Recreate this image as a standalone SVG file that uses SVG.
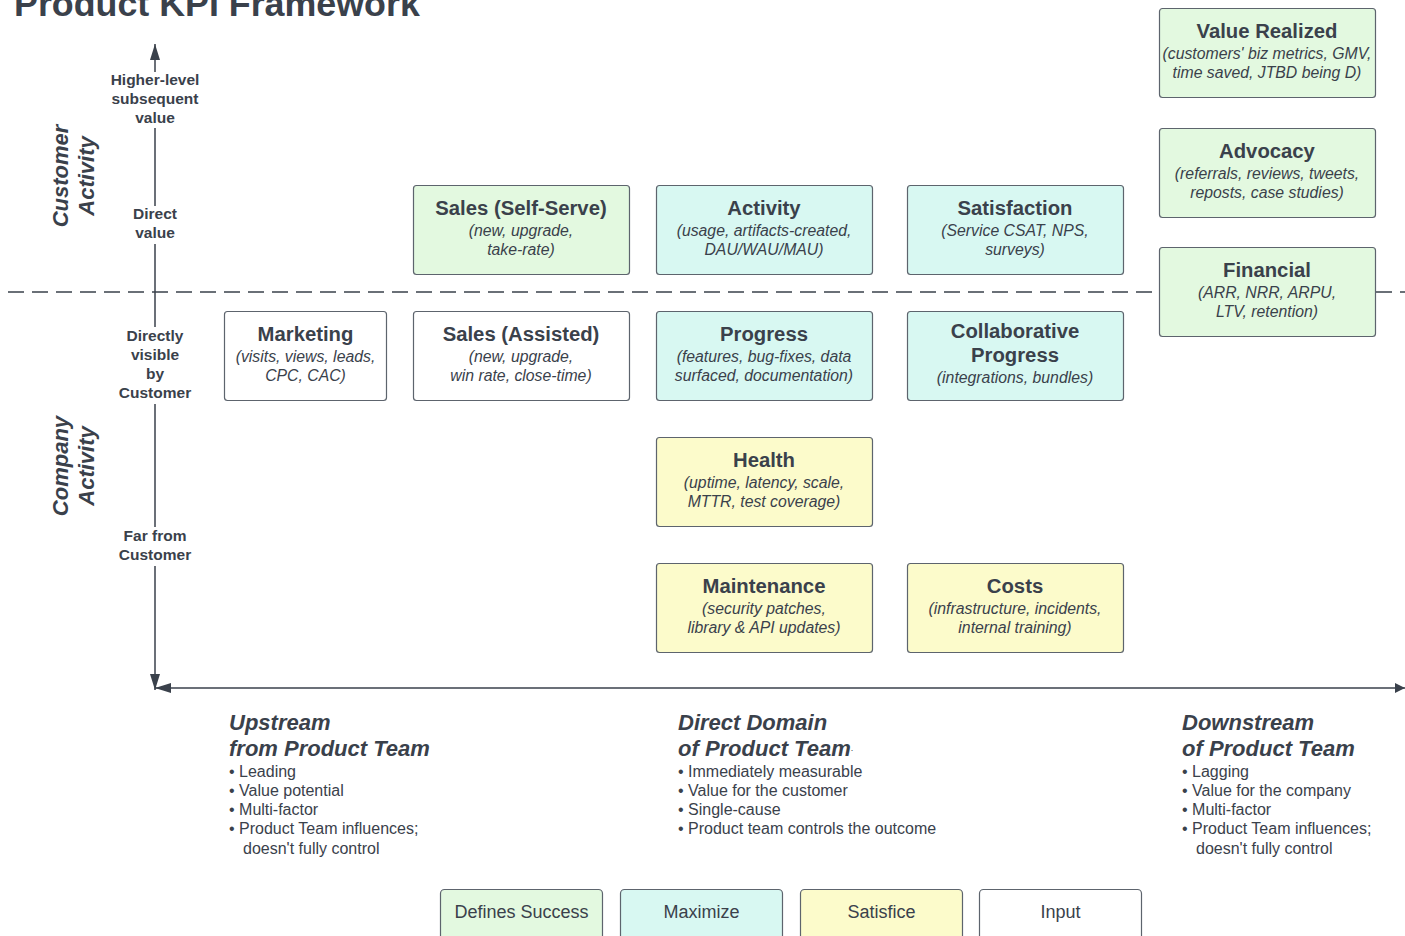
<svg xmlns="http://www.w3.org/2000/svg" width="1405" height="936" viewBox="0 0 1405 936">
<style>
text{font-family:"Liberation Sans",Arial,sans-serif;fill:#3a414b;}
.box{stroke:#5d646d;stroke-width:1.2;}
.g{fill:#e3f9e0;}
.c{fill:#d8f8f2;}
.y{fill:#fcfbcb;}
.w{fill:#ffffff;}
.t{font-size:20.3px;font-weight:bold;text-anchor:middle;dominant-baseline:central;}
.s{font-size:15.8px;font-style:italic;text-anchor:middle;dominant-baseline:central;}
.ax{font-size:15.5px;font-weight:bold;text-anchor:middle;dominant-baseline:central;}
.rot{font-size:22px;font-weight:bold;font-style:italic;text-anchor:middle;dominant-baseline:central;}
.h{font-size:22px;font-weight:bold;font-style:italic;dominant-baseline:central;}
.b{font-size:16px;dominant-baseline:central;}
.lg{font-size:18px;text-anchor:middle;dominant-baseline:central;}
.ln{stroke:#3a414b;stroke-width:1.5;fill:none;}
</style>
<defs>
<marker id="ah" viewBox="0 0 10 10" refX="10" refY="5" markerWidth="10" markerHeight="10" markerUnits="userSpaceOnUse" orient="auto">
<path d="M0,0 L10,5 L0,10 z" fill="#3a414b"/>
</marker>
<marker id="ahL" viewBox="0 0 16 10" refX="16" refY="5" markerWidth="16" markerHeight="10" markerUnits="userSpaceOnUse" orient="auto">
<path d="M0,0 L16,5 L0,10 z" fill="#3a414b"/>
</marker>
</defs>
<rect width="1405" height="936" fill="#ffffff"/>

<text x="14" y="4" style="font-size:35.8px;font-weight:bold;dominant-baseline:central">Product KPI Framework</text>

<g id="connectors">
<line x1="8" y1="292" x2="1405" y2="292" stroke="#3a414b" stroke-width="1.3" stroke-dasharray="16 8"/>
<line class="ln" x1="155" y1="72" x2="155" y2="44" marker-end="url(#ahL)"/>
<line class="ln" x1="155" y1="128" x2="155" y2="206"/>
<line class="ln" x1="155" y1="244" x2="155" y2="327"/>
<line class="ln" x1="155" y1="404" x2="155" y2="527"/>
<line class="ln" x1="155" y1="566" x2="155" y2="690" marker-end="url(#ahL)"/>
<line class="ln" x1="1300" y1="688" x2="155" y2="688" marker-end="url(#ahL)"/>
<line class="ln" x1="1300" y1="688" x2="1405" y2="688" marker-end="url(#ah)"/>
</g>

<g id="axis-labels">
<text class="ax" x="155" y="79">Higher-level</text>
<text class="ax" x="155" y="98">subsequent</text>
<text class="ax" x="155" y="117">value</text>
<text class="ax" x="155" y="213">Direct</text>
<text class="ax" x="155" y="232">value</text>
<text class="ax" x="155" y="335">Directly</text>
<text class="ax" x="155" y="354">visible</text>
<text class="ax" x="155" y="373">by</text>
<text class="ax" x="155" y="392">Customer</text>
<text class="ax" x="155" y="535">Far from</text>
<text class="ax" x="155" y="554">Customer</text>
<text class="rot" transform="translate(60,176) rotate(-90)">Customer</text>
<text class="rot" transform="translate(86,176) rotate(-90)">Activity</text>
<text class="rot" transform="translate(60,466) rotate(-90)">Company</text>
<text class="rot" transform="translate(86,466) rotate(-90)">Activity</text>
</g>

<g id="value-realized">
<rect class="box g" x="1159.5" y="8.5" width="216" height="89" rx="3"/>
<text class="t" x="1267" y="31">Value Realized</text>
<text class="s" x="1267" y="53">(customers' biz metrics, GMV,</text>
<text class="s" x="1267" y="72">time saved, JTBD being D)</text>
</g>
<g id="advocacy">
<rect class="box g" x="1159.5" y="128.5" width="216" height="89" rx="3"/>
<text class="t" x="1267" y="151">Advocacy</text>
<text class="s" x="1267" y="173">(referrals, reviews, tweets,</text>
<text class="s" x="1267" y="192">reposts, case studies)</text>
</g>
<g id="financial">
<rect class="box g" x="1159.5" y="247.5" width="216" height="89" rx="3"/>
<text class="t" x="1267" y="270">Financial</text>
<text class="s" x="1267" y="292">(ARR, NRR, ARPU,</text>
<text class="s" x="1267" y="311">LTV, retention)</text>
</g>
<g id="sales-self-serve">
<rect class="box g" x="413.5" y="185.5" width="216" height="89" rx="3"/>
<text class="t" x="521" y="208">Sales (Self-Serve)</text>
<text class="s" x="521" y="230">(new, upgrade,</text>
<text class="s" x="521" y="249">take-rate)</text>
</g>
<g id="activity">
<rect class="box c" x="656.5" y="185.5" width="216" height="89" rx="3"/>
<text class="t" x="764" y="208">Activity</text>
<text class="s" x="764" y="230">(usage, artifacts-created,</text>
<text class="s" x="764" y="249">DAU/WAU/MAU)</text>
</g>
<g id="satisfaction">
<rect class="box c" x="907.5" y="185.5" width="216" height="89" rx="3"/>
<text class="t" x="1015" y="208">Satisfaction</text>
<text class="s" x="1015" y="230">(Service CSAT, NPS,</text>
<text class="s" x="1015" y="249">surveys)</text>
</g>
<g id="marketing">
<rect class="box w" x="224.5" y="311.5" width="162" height="89" rx="3"/>
<text class="t" x="305.5" y="334">Marketing</text>
<text class="s" x="305.5" y="356">(visits, views, leads,</text>
<text class="s" x="305.5" y="375">CPC, CAC)</text>
</g>
<g id="sales-assisted">
<rect class="box w" x="413.5" y="311.5" width="216" height="89" rx="3"/>
<text class="t" x="521" y="334">Sales (Assisted)</text>
<text class="s" x="521" y="356">(new, upgrade,</text>
<text class="s" x="521" y="375">win rate, close-time)</text>
</g>
<g id="progress">
<rect class="box c" x="656.5" y="311.5" width="216" height="89" rx="3"/>
<text class="t" x="764" y="334">Progress</text>
<text class="s" x="764" y="356">(features, bug-fixes, data</text>
<text class="s" x="764" y="375">surfaced, documentation)</text>
</g>
<g id="collaborative-progress">
<rect class="box c" x="907.5" y="311.5" width="216" height="89" rx="3"/>
<text class="t" x="1015" y="331">Collaborative</text>
<text class="t" x="1015" y="355">Progress</text>
<text class="s" x="1015" y="377">(integrations, bundles)</text>
</g>
<g id="health">
<rect class="box y" x="656.5" y="437.5" width="216" height="89" rx="3"/>
<text class="t" x="764" y="460">Health</text>
<text class="s" x="764" y="482">(uptime, latency, scale,</text>
<text class="s" x="764" y="501">MTTR, test coverage)</text>
</g>
<g id="maintenance">
<rect class="box y" x="656.5" y="563.5" width="216" height="89" rx="3"/>
<text class="t" x="764" y="586">Maintenance</text>
<text class="s" x="764" y="608">(security patches,</text>
<text class="s" x="764" y="627">library &amp; API updates)</text>
</g>
<g id="costs">
<rect class="box y" x="907.5" y="563.5" width="216" height="89" rx="3"/>
<text class="t" x="1015" y="586">Costs</text>
<text class="s" x="1015" y="608">(infrastructure, incidents,</text>
<text class="s" x="1015" y="627">internal training)</text>
</g>

<g id="upstream">
<text class="h" x="229" y="722">Upstream</text>
<text class="h" x="229" y="748">from Product Team</text>
<text class="b" x="229" y="771">• Leading</text>
<text class="b" x="229" y="790">• Value potential</text>
<text class="b" x="229" y="809">• Multi-factor</text>
<text class="b" x="229" y="828">• Product Team influences;</text>
<text class="b" x="243" y="848">doesn't fully control</text>
</g>
<g id="direct-domain">
<text class="h" x="678" y="722">Direct Domain</text>
<text class="h" x="678" y="748">of Product Team<tspan style="font-size:9px;font-style:normal;font-weight:normal">.</tspan></text>
<text class="b" x="678" y="771">• Immediately measurable</text>
<text class="b" x="678" y="790">• Value for the customer</text>
<text class="b" x="678" y="809">• Single-cause</text>
<text class="b" x="678" y="828">• Product team controls the outcome</text>
</g>
<g id="downstream">
<text class="h" x="1182" y="722">Downstream</text>
<text class="h" x="1182" y="748">of Product Team</text>
<text class="b" x="1182" y="771">• Lagging</text>
<text class="b" x="1182" y="790">• Value for the company</text>
<text class="b" x="1182" y="809">• Multi-factor</text>
<text class="b" x="1182" y="828">• Product Team influences;</text>
<text class="b" x="1196" y="848">doesn't fully control</text>
</g>

<g id="legend-defines-success">
<rect class="box g" x="440.5" y="889.5" width="162" height="60" rx="4"/>
<text class="lg" x="521.5" y="912">Defines Success</text>
</g>
<g id="legend-maximize">
<rect class="box c" x="620.5" y="889.5" width="162" height="60" rx="4"/>
<text class="lg" x="701.5" y="912">Maximize</text>
</g>
<g id="legend-satisfice">
<rect class="box y" x="800.5" y="889.5" width="162" height="60" rx="4"/>
<text class="lg" x="881.5" y="912">Satisfice</text>
</g>
<g id="legend-input">
<rect class="box w" x="979.5" y="889.5" width="162" height="60" rx="4"/>
<text class="lg" x="1060.5" y="912">Input</text>
</g>
</svg>
